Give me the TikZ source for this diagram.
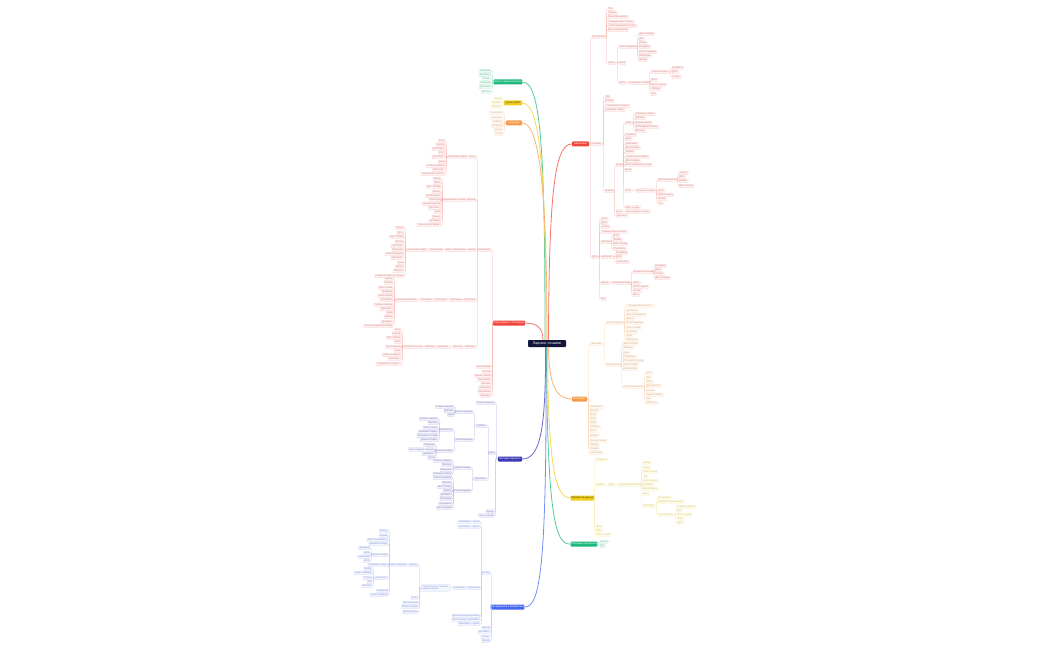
\documentclass[tikz,border=0pt]{standalone}
\usepackage{fontspec}
\setmainfont{Liberation Sans}
\definecolor{cR}{HTML}{F0463C}
\definecolor{cO}{HTML}{F59A4A}
\definecolor{cY}{HTML}{F2CE1B}
\definecolor{cG}{HTML}{1DB87A}
\definecolor{cI}{HTML}{3B37B8}
\definecolor{cB}{HTML}{4467F0}
\definecolor{cC}{HTML}{15163A}
\tikzset{
  leaf/.style={draw=#1!28, fill=#1!6, text=#1!60!gray!80, rounded corners=0.6pt, line width=0.25pt,
    font=\fontsize{2.2}{2.4}\selectfont, inner xsep=0.6pt, inner ysep=0.3pt, minimum height=3.3pt},
  mainnode/.style={fill=#1, text=white, rounded corners=0.8pt, minimum height=5pt, inner sep=0.5pt,
    font=\fontsize{2.6}{3}\selectfont},
  cn/.style={draw=#1!38, line width=0.3pt, rounded corners=0.8pt},
  br/.style={draw=#1!75, line width=0.8pt}
}
\newcommand\pickword[2]{%
 \pgfmathtruncatemacro\pwk{mod(#2,3)}%
 \ifnum#1<6 \ifcase\pwk Имя\or Тип\or Вес\fi
 \else\ifnum#1<8 \ifcase\pwk Цена\or Фото\or Дата\fi
 \else\ifnum#1<10 \ifcase\pwk Отзыв\or Бренд\or Оценка\fi
 \else\ifnum#1<12 \ifcase\pwk Рейтинг\or Продавец\or Магазин\fi
 \else\ifnum#1<14 \ifcase\pwk Категория\or Покупатель\or Доставка\fi
 \else\ifnum#1<16 \ifcase\pwk Текст отзыва\or Дата покупки\or Число оценок\fi
 \else\ifnum#1<19 \ifcase\pwk Оценка товара\or Плюсы и минусы\or Ответ продавца\fi
 \else\ifnum#1<22 \ifcase\pwk Имя пользователя\or Название товара\or Полезность отзыва\fi
 \else\ifnum#1<26 \ifcase\pwk Количество отзывов\or Фотографии к отзыву\or Средняя оценка товара\fi
 \else \ifcase\pwk Ссылка на карточку товара\or Период сбора отзывов\or Ответ магазина на отзыв\fi
 \fi\fi\fi\fi\fi\fi\fi\fi\fi}
% right-side single node: name, parent, x(left), y, width, colour
\newcommand\Rnode[6]{%
  \node[leaf=#6, minimum width=#5pt, anchor=west] (#1) at (#3,#4) {\pickword{#5}{#4}};%
  \coordinate (tmp) at (#3-1.2,0);%
  \draw[cn=#6] (#2.east) -- (#2.east -| tmp) |- (#1.west);%
}
% left-side single node: name, parent, x(right), y, width, colour
\newcommand\Lnode[6]{%
  \node[leaf=#6, minimum width=#5pt, anchor=east] (#1) at (#3,#4) {\pickword{#5}{#4}};%
  \coordinate (tmp) at (#3+1.2,0);%
  \draw[cn=#6] (#2.west) -- (#2.west -| tmp) |- (#1.east);%
}
% right-side leaf list: parent, prefix, x(left), colour, list y/w
\newcommand\Rleaves[5]{%
  \coordinate (tmp) at (#3-1.2,0);%
  \foreach \yy/\ww [count=\ii] in {#5}{%
    \node[leaf=#4, minimum width=\ww pt, anchor=west] (#2-\ii) at (#3,\yy) {\pickword{\ww}{\ii}};
    \draw[cn=#4] (#1.east) -- (#1.east -| tmp) |- (#2-\ii.west);
  }%
}
\newcommand\Lleaves[5]{%
  \coordinate (tmp) at (#3+1.2,0);%
  \foreach \yy/\ww [count=\ii] in {#5}{%
    \node[leaf=#4, minimum width=\ww pt, anchor=east] (#2-\ii) at (#3,\yy) {\pickword{\ww}{\ii}};
    \draw[cn=#4] (#1.west) -- (#1.west -| tmp) |- (#2-\ii.east);
  }%
}
\begin{document}
\begin{tikzpicture}[x=1pt,y=-1pt]
\fill[white] (0,0) rectangle (1050,650);
\useasboundingbox (0,0) rectangle (1050,650);

% ---------- centre ----------
\node[fill=cC, text=white, minimum width=38pt, minimum height=7pt, rounded corners=0.8pt, inner sep=0.5pt,
  font=\fontsize{3.6}{4}\selectfont] (C) at (547,343.5) {Парсинг отзывов};

% ---------- main nodes ----------
\node[mainnode=cR, minimum width=17pt] (R1) at (580.5,144) {Аналитика};
\node[mainnode=cO, minimum width=15pt] (O1) at (579.5,399) {Источники};
\node[mainnode=cY, text=black!75, minimum width=21pt] (Y1) at (582.5,498) {Обработка данных};
\node[mainnode=cG, minimum width=24pt] (G1) at (584,544) {Итоговые результаты};
\node[mainnode=cG, minimum width=28pt] (G2) at (508,82) {Цели и задачи проекта};
\node[mainnode=cY, text=black!75, minimum width=18pt] (Y2) at (513,103) {Сроки работ};
\node[mainnode=cO, minimum width=16pt] (O2) at (514,123) {Команда};
\node[mainnode=cR, minimum width=32pt] (R2) at (509,323) {Сбор данных с площадок};
\node[mainnode=cI, minimum width=24pt] (I0) at (510,459) {Методы парсинга};
\node[mainnode=cB, minimum width=29pt] (B0) at (507.5,607) {Инструменты и библиотеки};

% ---------- R1 ----------
\Rnode{R1a}{R1}{592}{37}{12}{cR}
\Rleaves{R1a}{R1aL}{608}{cR}{9/5, 13/9, 17/20, 22/26, 26/29, 30/19}
\Rnode{R1a7}{R1a}{608}{63}{7}{cR}
\Rnode{R1a7a}{R1a7}{619}{47}{18}{cR}
\Rleaves{R1a7a}{R1a7aL}{639}{cR}{34/15, 39/5, 43/8, 47/11, 52/17, 56/12, 60/8}
\Rnode{R1a7b}{R1a7}{619}{63}{6}{cR}
\Rnode{R1a7c}{R1a7}{619}{83}{7}{cR}
\Rnode{R1a7c1}{R1a7c}{629}{83}{19}{cR}
\Rnode{R1a7c1a}{R1a7c1}{651}{72}{18}{cR}
\Rleaves{R1a7c1a}{R1a7c1aL}{672}{cR}{68/10, 72/6, 77/9}
\Rleaves{R1a7c1}{R1a7c1L}{651}{cR}{80/6, 85/14, 89/10, 94/5}

\Rnode{R1b}{R1}{592}{144}{10}{cR}
\Rleaves{R1b}{R1bL}{605}{cR}{97/5, 101/8, 106/25, 110/20}
\Rnode{R1b5}{R1b}{605}{191}{8}{cR}
\Rnode{R1b5a}{R1b5}{616}{165}{6}{cR}
\Rnode{R1b5a1}{R1b5a}{625}{123}{7}{cR}
\Rleaves{R1b5a1}{R1b5a1L}{635}{cR}{114/20, 118/10, 123/16, 127/23, 131/10}
\Rleaves{R1b5a}{R1b5aL}{625}{cR}{135/11, 139/7, 144/13, 148/15, 152/9, 157/24, 161/15, 165/26, 170/6}
\Rnode{R1b5a2}{R1b5a}{625}{190.5}{7}{cR}
\Rnode{R1b5a2a}{R1b5a2}{636}{190.5}{19}{cR}
\Rnode{R1b5a2a1}{R1b5a2a}{658}{180}{19}{cR}
\Rleaves{R1b5a2a1}{R1b5a2a1L}{679}{cR}{173/9, 177/6, 181/9, 186/14}
\Rleaves{R1b5a2a}{R1b5a2aL}{658}{cR}{190.5/7, 194.8/14, 199/8, 203.3/5}
\Rnode{R1b5a3}{R1b5a}{625}{207.3}{15}{cR}
\Rnode{R1b5b}{R1b5}{616}{211.5}{6}{cR}
\Rnode{R1b5b1}{R1b5b}{626}{211.5}{24}{cR}
\Rnode{R1b5c}{R1b5}{616}{215.5}{12}{cR}

\Rnode{R1c}{R1}{592}{257}{6}{cR}
\Rleaves{R1c}{R1cL}{601}{cR}{219/7, 223/6, 227/9, 232/26}
\Rnode{R1c5}{R1c}{601}{242}{10}{cR}
\Rleaves{R1c5}{R1c5L}{613}{cR}{236/6, 240/9, 244/14, 249/13}
\Rnode{R1c6}{R1c}{601}{257}{12}{cR}
\Rleaves{R1c6}{R1c6L}{616}{cR}{253/10, 257/6, 262/13}
\Rnode{R1c7}{R1c}{601}{283}{8}{cR}
\Rnode{R1c7a}{R1c7}{612}{283}{19}{cR}
\Rnode{R1c7a1}{R1c7a}{633}{272}{19}{cR}
\Rleaves{R1c7a1}{R1c7a1L}{655}{cR}{266/10, 270/6, 274/9, 278/15}
\Rleaves{R1c7a}{R1c7aL}{633}{cR}{283/7, 287/14, 291/8, 295/6}
\Rnode{R1c8}{R1c}{601}{299}{5}{cR}

% ---------- O1 ----------
\Rnode{O1a}{O1}{590}{344}{13}{cO}
\Rnode{O1a1}{O1a}{606}{323}{17}{cO}
\Rleaves{O1a1}{O1a1L}{626}{cO}{306/28, 311/12, 315/20, 319/8, 323/16, 328/15, 332/10, 336/7, 340/12}
\Rnode{O1a2}{O1a}{606}{365}{14}{cO}
\Rleaves{O1a2}{O1a2L}{623}{cO}{344/15, 348/11, 353/7, 357/12, 361/20, 365/15, 369/14}
\Rnode{O1a2h}{O1a2}{623}{387}{19}{cO}
\Rleaves{O1a2h}{O1a2hL}{646}{cO}{373/6, 378/4, 382/7, 386/14, 391/8, 395/17, 399/5, 403/12}
\Rleaves{O1}{O1L}{590}{cO}{407/12, 411/8, 415/6, 419/6, 423/7, 427/11, 431/6, 436/8, 441/16, 445/9, 449/9, 453/13}

% ---------- Y1 ----------
\Rnode{Y1a}{Y1}{596}{460}{11}{cY}
\Rnode{Y1b}{Y1}{596}{485}{9}{cY}
\Rnode{Y1b1}{Y1b}{608}{485}{7}{cY}
\Rnode{Y1b2}{Y1b1}{618}{485}{22}{cY}
\Rleaves{Y1b2}{Y1b2L}{643}{cY}{463/8, 468/7, 472/14, 477/4, 481/14, 485/11, 489/15, 494/6}
\Rnode{Y1b3}{Y1b2}{643}{506}{12}{cY}
\Rleaves{Y1b3}{Y1b3L}{658}{cY}{498/13, 502/25}
\Rnode{Y1b4}{Y1b3}{658}{515}{15}{cY}
\Rleaves{Y1b4}{Y1b4L}{677}{cY}{507/17, 511/4, 515/14, 519/7, 523/6}
\Rleaves{Y1}{Y1L}{596}{cY}{527/6, 531/6, 535/14}

% ---------- G1 ----------
\Rleaves{G1}{G1L}{600}{cG}{542/8, 546/4}

% ---------- G2, Y2, O2 ----------
\Lleaves{G2}{G2L}{491}{cG}{71/11, 75/12, 79/9, 83/11, 87/12, 92/10}
\Lleaves{Y2}{Y2L}{502}{cY}{99/8, 103/11, 107/11}
\Lleaves{O2}{O2L}{503}{cO}{113/13, 118/12, 122/11, 126/11, 130/9, 134/8}

% ---------- R2 ----------
\Lnode{R2a}{R2}{491}{250}{13}{cR}
\Lleaves{R2}{R2L}{491}{cR}{367/14, 372/8, 376/16, 380/13, 384/10, 388/12, 392/12, 396/11}
\Lnode{R2a1}{R2a}{476}{157}{7}{cR}
\Lnode{R2a1a}{R2a1}{467}{157}{19}{cR}
\Lleaves{R2a1a}{R2a1aL}{445}{cR}{141/6, 145/8, 149/13, 153/6, 157/13, 162/6, 166/17, 170/13, 174/24}
\Lnode{R2a2}{R2a}{476}{200}{8}{cR}
\Lnode{R2a2a}{R2a2}{466}{200}{22}{cR}
\Lleaves{R2a2a}{R2a2aL}{441}{cR}{179/8, 183/7, 187/14, 192/9, 196/14, 200/12, 204/18, 208/13, 212/6, 217/9, 221/12, 225/24}
\Lnode{R2a3}{R2a}{476}{250}{8}{cR}
\Lnode{R2a3a}{R2a3}{466}{250}{12}{cR}
\Lnode{R2a3b}{R2a3a}{452}{250}{6}{cR}
\Lnode{R2a3c}{R2a3b}{443}{250}{12}{cR}
\Lnode{R2a3d}{R2a3c}{428}{250}{21}{cR}
\Lleaves{R2a3d}{R2a3dL}{404}{cR}{228/8, 233/7, 237/14, 242/9, 246/13, 250/12, 254/17, 258/13, 263/6, 267/9, 271/11, 276/26}
\Lnode{R2a4}{R2a}{476}{300}{12}{cR}
\Lnode{R2a4a}{R2a4}{462}{300}{12}{cR}
\Lnode{R2a4b}{R2a4a}{447}{300}{12}{cR}
\Lnode{R2a4c}{R2a4b}{433}{300}{13}{cR}
\Lnode{R2a4d}{R2a4c}{417}{300}{21}{cR}
\Lleaves{R2a4d}{R2a4dL}{393}{cR}{279/8, 283/8, 288/14, 292/10, 296/14, 300/13, 305/18, 309/13, 313/6, 317/9, 322/12, 326/26}
\Lnode{R2a5}{R2a}{476}{347}{11}{cR}
\Lnode{R2a5a}{R2a5}{463}{347}{10}{cR}
\Lnode{R2a5b}{R2a5a}{450}{347}{13}{cR}
\Lnode{R2a5c}{R2a5b}{436}{347}{11}{cR}
\Lnode{R2a5d}{R2a5c}{423}{347}{20}{cR}
\Lleaves{R2a5d}{R2a5dL}{401}{cR}{330/6, 334/8, 338/14, 342/6, 347/14, 351/6, 355/17, 359/13, 364/25}

% ---------- I ----------
\Lnode{Ia}{I0}{495}{403}{17}{cI}
\Lnode{Ib}{I0}{495}{453}{6}{cI}
\Lnode{Ic}{I0}{494}{511.5}{8}{cI}
\Lnode{Id}{I0}{494}{515.5}{15}{cI}
\Lnode{Ib1}{Ib}{487}{426}{11}{cI}
\Lnode{Ib2}{Ib}{487}{479}{13}{cI}
\Lnode{Ib1a}{Ib1}{473}{412}{16}{cI}
\Lleaves{Ib1a}{Ib1aL}{454}{cI}{407/18, 411/10, 415/6}
\Lnode{Ib1b}{Ib1}{473}{440}{16}{cI}
\Lnode{Ib1b1}{Ib1b}{453}{430}{13}{cI}
\Lleaves{Ib1b1}{Ib1b1L}{438}{cI}{419/18, 423/10, 428/15, 432/20, 436/21, 440/18}
\Lnode{Ib1b2}{Ib1b}{453}{451}{16}{cI}
\Lleaves{Ib1b2}{Ib1b2L}{435}{cI}{445/10, 454/13, 458/7}
\Lnode{Ib1b2x}{Ib1b2}{435}{449.5}{9}{cI}
\Lnode{Ib1b2y}{Ib1b2x}{424}{449.5}{14}{cI}
\Lnode{Ib2a}{Ib2}{471}{468}{16}{cI}
\Lleaves{Ib2a}{Ib2aL}{452}{cI}{461/17, 465/10, 470/12, 474/19}
\Lnode{Ib2b}{Ib2}{471}{491}{16}{cI}
\Lleaves{Ib2b}{Ib2bL}{452}{cI}{478/17, 483/10, 487/14, 491/9, 495/12, 499/12, 504/12, 508/14}

% ---------- B ----------
\Lnode{Ba}{B0}{490}{573}{8}{cB}
\Lleaves{B0}{B0L}{490}{cB}{628/8, 632/12, 637/9, 641/8}
\Lnode{Ba1}{Ba}{480}{522}{7}{cB}
\Lnode{Ba1a}{Ba1}{471}{522}{13}{cB}
\Lnode{Ba2}{Ba}{480}{527}{7}{cB}
\Lnode{Ba2a}{Ba2}{471}{527}{13}{cB}
\Lnode{Ba3}{Ba}{480}{588}{12}{cB}
\Lnode{Ba3a}{Ba3}{466}{588}{13}{cB}
\node[leaf=cB, minimum width=29pt, minimum height=6.5pt, anchor=east, align=left] (Ba3b) at (450,588)
  {Сбор отзывов с сайтов и\\маркетплейсов};
\coordinate (tmp) at (451.2,0);
\draw[cn=cB] (Ba3a.west) -- (Ba3a.west -| tmp) |- (Ba3b.east);
\Lnode{Ba3b1}{Ba3b}{418}{565}{9}{cB}
\Lleaves{Ba3b}{Ba3bL}{418}{cB}{598/7, 603/14, 607/16, 612/15}
\Lnode{Ba3b1a}{Ba3b1}{407}{565}{16}{cB}
\Lleaves{Ba3b1a}{Ba3b1aL}{388}{cB}{531/9, 536/8, 540/21, 544/19}
\Lnode{Ba3b1b}{Ba3b1a}{388}{555}{16}{cB}
\Lleaves{Ba3b1b}{Ba3b1bL}{370}{cB}{548/10, 553/6, 557/12, 561/6}
\Lnode{Ba3b1c}{Ba3b1a}{388}{565}{20}{cB}
\Lnode{Ba3b1d}{Ba3b1a}{388}{578}{13}{cB}
\Lleaves{Ba3b1d}{Ba3b1dL}{372}{cB}{569/8, 573/17, 578/9, 582/5, 586/10}
\Lleaves{Ba3b1a}{Ba3b1aM}{388}{cB}{591/11, 595/17}
\Lnode{Ba4}{Ba}{480}{616}{12}{cB}
\Lnode{Ba4a}{Ba4}{467}{616}{14}{cB}
\Lnode{Ba5}{Ba}{480}{620}{12}{cB}
\Lnode{Ba5a}{Ba5}{467}{620}{14}{cB}
\Lnode{Ba6}{Ba}{480}{624}{7}{cB}
\Lnode{Ba6a}{Ba6}{471}{624}{13}{cB}

% ---------- branches from the centre ----------
\draw[br=cG] (G2.east) .. controls (541,82) and (545,150) .. ([xshift=-2pt]C.north);
\draw[br=cY] (Y2.east) .. controls (539,103) and (546,160) .. ([xshift=-1pt]C.north);
\draw[br=cO] (O2.east) .. controls (537,123) and (547,170) .. (C.north);
\draw[br=cR] ([xshift=1.5pt]C.north) .. controls (549,190) and (555,144) .. (R1.west);
\draw[br=cR] (R2.east) .. controls (537,323) and (543,328) .. ([xshift=-4pt]C.north);
\draw[br=cO] ([xshift=1.5pt]C.south) .. controls (549,385) and (556,399) .. (O1.west);
\draw[br=cY] ([xshift=0.5pt]C.south) .. controls (548,470) and (556,498) .. (Y1.west);
\draw[br=cG] ([xshift=-0.5pt]C.south) .. controls (547,520) and (556,545) .. (G1.west);
\draw[br=cI] ([xshift=-1.5pt]C.south) .. controls (546,430) and (540,459) .. (I0.east);
\draw[br=cB] ([xshift=-1pt]C.south) .. controls (547,570) and (540,607) .. (B0.east);
\end{tikzpicture}
\end{document}
